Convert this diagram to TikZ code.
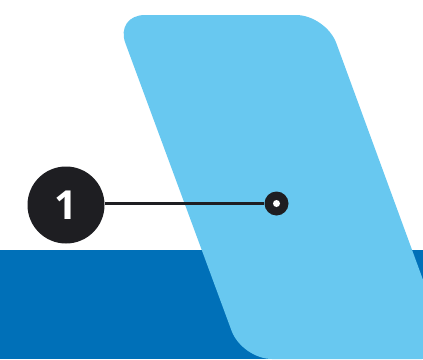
\documentclass[tikz,border=0pt]{standalone}
\usepackage{fontspec}
\setmainfont{Open Sans}
\definecolor{bandblue}{HTML}{0070B8}
\definecolor{lightblue}{HTML}{68C8F0}
\definecolor{darkdot}{HTML}{1E1E22}
\begin{document}
\begin{tikzpicture}[x=1pt,y=-1pt,
  callout/.style={circle,fill=darkdot,minimum size=77pt,inner sep=0pt,text=white,font=\bfseries\fontsize{40}{42}\selectfont},
  target/.style={circle,fill=darkdot,minimum size=24pt,inner sep=0pt},
  leader/.style={draw=darkdot,line width=3.5pt}]
\useasboundingbox (0,0) rectangle (423,359);
\clip (0,0) rectangle (423,359);
\fill[white] (0,0) rectangle (423,359);
\fill[bandblue] (0,250) rectangle (423,359);
\fill[lightblue,rounded corners=30pt] (115,15) -- (326,15) -- (452,359) -- (242,359) -- cycle;
\node[callout] (c1) at (66,205) {1};
\node[target] (t1) at (276.5,203.5) {};
\draw[leader] (c1.east |- t1) -- (t1);
\fill[white] (t1.center) circle (3.5pt);
\end{tikzpicture}
\end{document}
